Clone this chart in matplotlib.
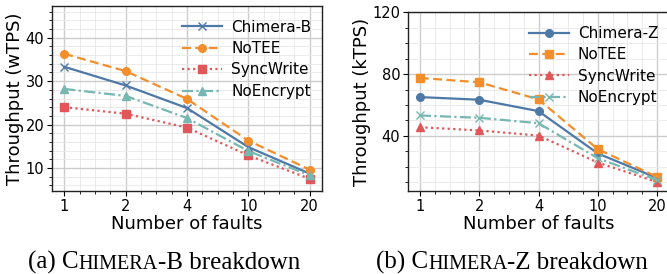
import matplotlib
matplotlib.use("Agg")
import matplotlib.pyplot as plt
from matplotlib.ticker import AutoMinorLocator, FixedLocator

faults = ["1", "2", "4", "10", "20"]

# Left: Chimera-B breakdown (wTPS)
b_labels = ["Chimera-B", "NoTEE", "SyncWrite", "NoEncrypt"]
b_chimera = [33.3, 29.0, 23.8, 14.8, 8.7]
b_notee = [36.3, 32.3, 25.9, 16.3, 9.6]
b_sync = [24.0, 22.5, 19.3, 12.9, 7.5]
b_noenc = [28.2, 26.6, 21.5, 13.9, 8.3]

# Right: Chimera-Z breakdown (kTPS)
z_labels = ["Chimera-Z", "NoTEE", "SyncWrite", "NoEncrypt"]
z_chimera = [65.1, 63.4, 56.0, 28.6, 12.7]
z_notee = [77.5, 74.7, 63.6, 31.4, 13.4]
z_sync = [45.6, 43.5, 40.2, 22.7, 10.1]
z_noenc = [53.2, 51.7, 48.2, 25.5, 11.4]

BLUE = "#4E79A7"
ORANGE = "#F28E2B"
RED = "#E15759"
TEAL = "#76B7B2"

W, H = 667, 274
fig = plt.figure(figsize=(W / 100, H / 100), dpi=100)
plt.rcParams['font.family'] = ['DejaVu Sans']


def px_axes(l, r, t, b):
    return fig.add_axes([l / W, 1 - b / H, (r - l) / W, (b - t) / H])


axL = px_axes(52, 322, 6, 191)
axR = px_axes(408, 669, 12.3, 191)

x = list(range(len(faults)))


def style(ax, ylim, majors, nminor, ylabel):
    ax.set_xlim(-0.2, 4.2)
    ax.set_ylim(*ylim)
    ax.set_xticks(x)
    ax.set_xticklabels(faults)
    ax.xaxis.set_minor_locator(AutoMinorLocator(4))
    ax.yaxis.set_major_locator(FixedLocator(majors))
    ax.yaxis.set_minor_locator(AutoMinorLocator(nminor))
    ax.grid(which="major", color="#cccccc", linewidth=1.0)
    ax.grid(which="minor", color="#e8e8e8", linewidth=0.6)
    ax.set_axisbelow(True)
    ax.tick_params(which="major", labelsize=10.5, length=3.5, width=0.8, pad=2)
    ax.tick_params(which="minor", length=2, width=0.6)
    ax.set_xlabel("Number of faults", fontsize=13, labelpad=1)
    ax.set_ylabel(ylabel, fontsize=13, labelpad=1)
    for s in ax.spines.values():
        s.set_linewidth(1.0)
        s.set_color("#222222")


lw = 1.6
ms = 5.5
axL.plot(x, b_chimera, color=BLUE, ls="-", marker="x", lw=lw, ms=ms, label=b_labels[0])
axL.plot(x, b_notee, color=ORANGE, ls=(0, (4, 2)), marker="o", lw=lw, ms=ms, label=b_labels[1])
axL.plot(x, b_sync, color=RED, ls=(0, (1, 1.5)), marker="s", lw=lw, ms=ms, label=b_labels[2])
axL.plot(x, b_noenc, color=TEAL, ls=(0, (5, 1.5, 1, 1.5)), marker="^", lw=lw, ms=ms, label=b_labels[3])
style(axL, (4.7, 47.3), [10, 20, 30, 40], 5, "Throughput (wTPS)")

axR.plot(x, z_chimera, color=BLUE, ls="-", marker="o", lw=lw, ms=ms, label=z_labels[0])
axR.plot(x, z_notee, color=ORANGE, ls=(0, (4, 2)), marker="s", lw=lw, ms=ms, label=z_labels[1])
axR.plot(x, z_sync, color=RED, ls=(0, (1, 1.5)), marker="^", lw=lw, ms=ms, label=z_labels[2])
axR.plot(x, z_noenc, color=TEAL, ls=(0, (5, 1.5, 1, 1.5)), marker="x", lw=lw, ms=ms, label=z_labels[3])
style(axR, (4.3, 120), [40, 80, 120], 4, "Throughput (kTPS)")

for ax in (axL, axR):
    ax.legend(loc="upper right", bbox_to_anchor=(1.0, 0.984), frameon=False, fontsize=11,
              handlelength=2.6, labelspacing=0.42, borderaxespad=0.3, handletextpad=0.6)

# Captions with small caps
fig.canvas.draw()
renderer = fig.canvas.get_renderer()
serif = "Liberation Serif"
big, small = 18, 14.5


def caption(parts, cx, ybase):
    texts = []
    xpos = 0
    for s, fs in parts:
        t = fig.text(xpos, ybase, s, fontsize=fs, family=serif, va="baseline", ha="left")
        bb = t.get_window_extent(renderer)
        texts.append((t, bb.width / W))
    total = sum(w for _, w in texts)
    cur = cx - total / 2
    for t, w in texts:
        t.set_x(cur)
        cur += w


yb = 1 - 269 / H
caption([("(a) C", big), ("HIMERA", small), ("-B breakdown", big)], 164 / W, yb)
caption([("(b) C", big), ("HIMERA", small), ("-Z breakdown", big)], 512 / W, yb)

fig.savefig("out.png", dpi=100)
